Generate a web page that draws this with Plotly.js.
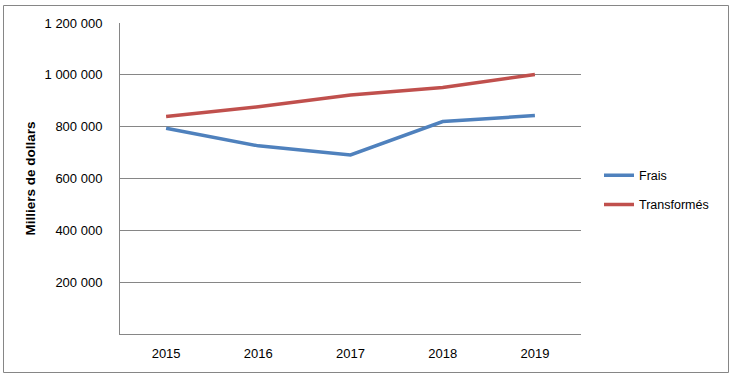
<!DOCTYPE html>
<html>
<head>
<meta charset="utf-8">
<script src="https://cdn.plot.ly/plotly-3.0.1.min.js"></script>
<style>html,body{margin:0;padding:0;background:#fff;}#chart{width:738px;height:377px;}</style>
</head>
<body>
<div id="chart"></div>
<script>
const years = ["2015", "2016", "2017", "2018", "2019"];
const frais = [794000, 726000, 691000, 820000, 843000];
const transformes = [839000, 877000, 922000, 951000, 1001000];
const yTicks = [200000, 400000, 600000, 800000, 1000000, 1200000];
const seriesNames = ["Frais", "Transformés"];
const seriesColors = ["#4F81BD", "#C0504D"];

const W = 738, H = 377;
const M = {l: 120, r: 157, t: 23, b: 43};
const pw = W - M.l - M.r, ph = H - M.t - M.b;
function px(x) { return (x - M.l) / pw; }
function py(y) { return (H - M.b - y) / ph; }

const font = {family: "Liberation Sans, Arial, sans-serif", size: 13, color: "#000"};

const traces = [frais, transformes].map((vals, i) => ({
  type: "scatter",
  mode: "lines",
  x: years,
  y: vals,
  name: seriesNames[i],
  legendgroup: "g" + i,
  line: {color: seriesColors[i], width: 3.5},
  hoverinfo: "skip"
}));

const layout = {
  width: W, height: H,
  margin: M,
  paper_bgcolor: "#fff",
  plot_bgcolor: "#fff",
  separators: ", ",
  font: font,
  showlegend: true,
  legend: {
    x: px(599), y: py(190), xanchor: "left", yanchor: "middle",
    font: {family: font.family, size: 12.5, color: "#000"},
    tracegroupgap: 10,
    bgcolor: "rgba(0,0,0,0)"
  },
  xaxis: {
    type: "category",
    range: [-0.5, 4.5],
    showgrid: false,
    showline: true,
    linecolor: "#868686",
    linewidth: 1,
    ticks: "",
    tickfont: font,
    ticklabelstandoff: 7,
    zeroline: false,
    fixedrange: true
  },
  yaxis: {
    range: [0, 1200000],
    tickvals: yTicks,
    tickformat: ",d",
    showgrid: true,
    gridcolor: "#868686",
    gridwidth: 1,
    showline: true,
    linecolor: "#868686",
    linewidth: 1,
    ticks: "",
    tickfont: font,
    ticklabelstandoff: 14,
    zeroline: false,
    fixedrange: true,
    title: {text: "Milliers de dollars", font: {family: font.family, size: 13.5, color: "#000", weight: "bold"}, standoff: 5}
  },
  shapes: [
    {type: "rect", xref: "paper", yref: "paper", x0: px(3.5), x1: px(728.5), y0: py(372.5), y1: py(5.5), line: {color: "#868686", width: 1}, fillcolor: "rgba(0,0,0,0)", layer: "below"}
  ]
};

Plotly.newPlot("chart", traces, layout, {staticPlot: true, displayModeBar: false});
</script>
</body>
</html>
